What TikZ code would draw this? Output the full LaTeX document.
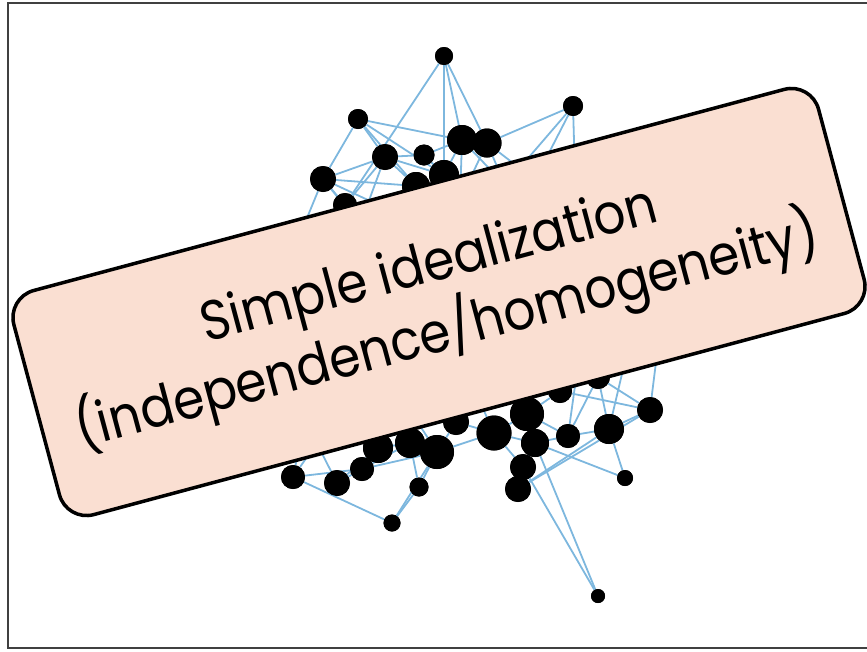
\documentclass[tikz,border=0pt]{standalone}
\usepackage{fontspec}
\newfontfamily\boxfont{Poppins}
\definecolor{edgeblue}{RGB}{125,183,222}
\definecolor{peach}{RGB}{250,223,210}
\definecolor{framegray}{RGB}{64,64,64}
\begin{document}
\begin{tikzpicture}[x=1pt,y=-1pt,
  dot/.style={circle,fill=black,inner sep=0pt,minimum size=#1},
  link/.style={draw=edgeblue,line width=1.8pt},
  labelbox/.style={draw=black,line width=3.5pt,fill=peach,rounded corners=28pt,
    minimum width=833pt,minimum height=232pt,inner sep=0pt},
  labeltext/.style={inner sep=0pt,align=center,
    font=\boxfont\fontsize{50}{62}\selectfont}]
\useasboundingbox (0,0) rectangle (867,651);
\draw[framegray,line width=2pt] (880,3) -- (8,3) -- (8,648) -- (880,648);
% visible nodes (top)
\node[dot=18pt] (A) at (444,56) {};
\node[dot=20pt] (B) at (573,106) {};
\node[dot=20pt] (C) at (358,119) {};
\node[dot=30pt] (D) at (462,140) {};
\node[dot=29pt] (E) at (487,143) {};
\node[dot=26pt] (F) at (385,157) {};
\node[dot=21pt] (G) at (424,155) {};
\node[dot=26pt] (H) at (323,179) {};
\node[dot=30pt] (I) at (444,175) {};
\node[dot=28pt] (J) at (416,186) {};
\node[dot=24pt] (K) at (345,205) {};
% visible nodes (bottom)
\node[dot=24pt] (L) at (293,477) {};
\node[dot=26pt] (M) at (337,483) {};
\node[dot=24pt] (N) at (362,469) {};
\node[dot=30pt] (O) at (378,448) {};
\node[dot=30pt] (P) at (410,443) {};
\node[dot=34pt] (Q) at (437,452) {};
\node[dot=19pt] (R) at (419,487) {};
\node[dot=17pt] (S) at (392,523) {};
\node[dot=35pt] (T) at (494,433) {};
\node[dot=34pt] (U) at (527,414) {};
\node[dot=28pt] (V) at (535,443) {};
\node[dot=26pt] (W) at (523,467) {};
\node[dot=26pt] (X) at (518,489) {};
\node[dot=24pt] (Y) at (568,436) {};
\node[dot=30pt] (Z) at (609,429) {};
\node[dot=26pt] (AA) at (650,410) {};
\node[dot=16pt] (AB) at (625,478) {};
\node[dot=14pt] (AC) at (598,596) {};
\node[dot=26pt] (AD) at (456,422) {};
\node[dot=24pt] (AE) at (560,391) {};
\node[dot=24pt] (AF) at (598,377) {};
% hidden ends under the label
\coordinate (h1) at (575,175);
\coordinate (h2) at (535,180);
\coordinate (h3) at (505,185);
\coordinate (h4) at (300,235);
\coordinate (h5) at (360,225);
\coordinate (h6) at (460,200);
\coordinate (h7) at (400,215);
\coordinate (b1) at (305,420);
\coordinate (b2) at (340,410);
\coordinate (b3) at (400,395);
\coordinate (b4) at (470,380);
\coordinate (b5) at (520,370);
\coordinate (b6) at (580,350);
\coordinate (b7) at (630,340);
\coordinate (b8) at (660,330);
\foreach \a/\b in {A/K,A/I,A/D,A/E,B/E,B/h1,B/h2,B/h3,C/H,C/D,C/F,C/I,C/J,
  H/F,H/J,H/K,H/h4,H/h5,H/h7,F/K,F/J,F/G,F/I,F/h5,G/I,G/D,D/h6,D/h3,D/I,
  E/h2,E/h3,E/h6,I/h6,
  L/S,L/N,L/b1,L/b2,M/N,M/b1,M/O,N/O,N/Q,N/P,O/P,O/b2,P/Q,P/R,P/b3,
  Q/R,Q/T,Q/AD,Q/b3,R/S,S/Q,T/AD,T/U,T/V,T/W,T/b4,U/V,U/Y,U/AE,U/b5,
  V/W,V/Y,W/X,AC/W,AC/V,X/Z,X/AA,Y/Z,Y/AF,Y/b6,Z/AA,Z/AB,Z/AF,Z/b7,
  AA/AF,AA/b8,AA/AE,AB/V,AD/b4,AD/b3,AE/b6,AF/b7}
  \draw[link] (\a) -- (\b);
% redraw dots above links
\foreach \n/\s in {A/18,B/20,C/20,D/30,E/29,F/26,G/21,H/26,I/30,J/28,K/24,
  L/24,M/26,N/24,O/30,P/30,Q/34,R/19,S/17,T/35,U/34,V/28,W/26,
  X/26,Y/24,Z/30,AA/26,AB/16,AC/14,AD/26,AE/24,AF/24}
  \fill[black] (\n.center) circle[radius=\s/2];
\node[labelbox,rotate=15] (label) at (439,302) {};
\node[labeltext,rotate=15,yscale=1.12] (labeltxt) at (label.center)
  {Simple idealization\\(independence/homogeneity)};
\end{tikzpicture}
\end{document}
